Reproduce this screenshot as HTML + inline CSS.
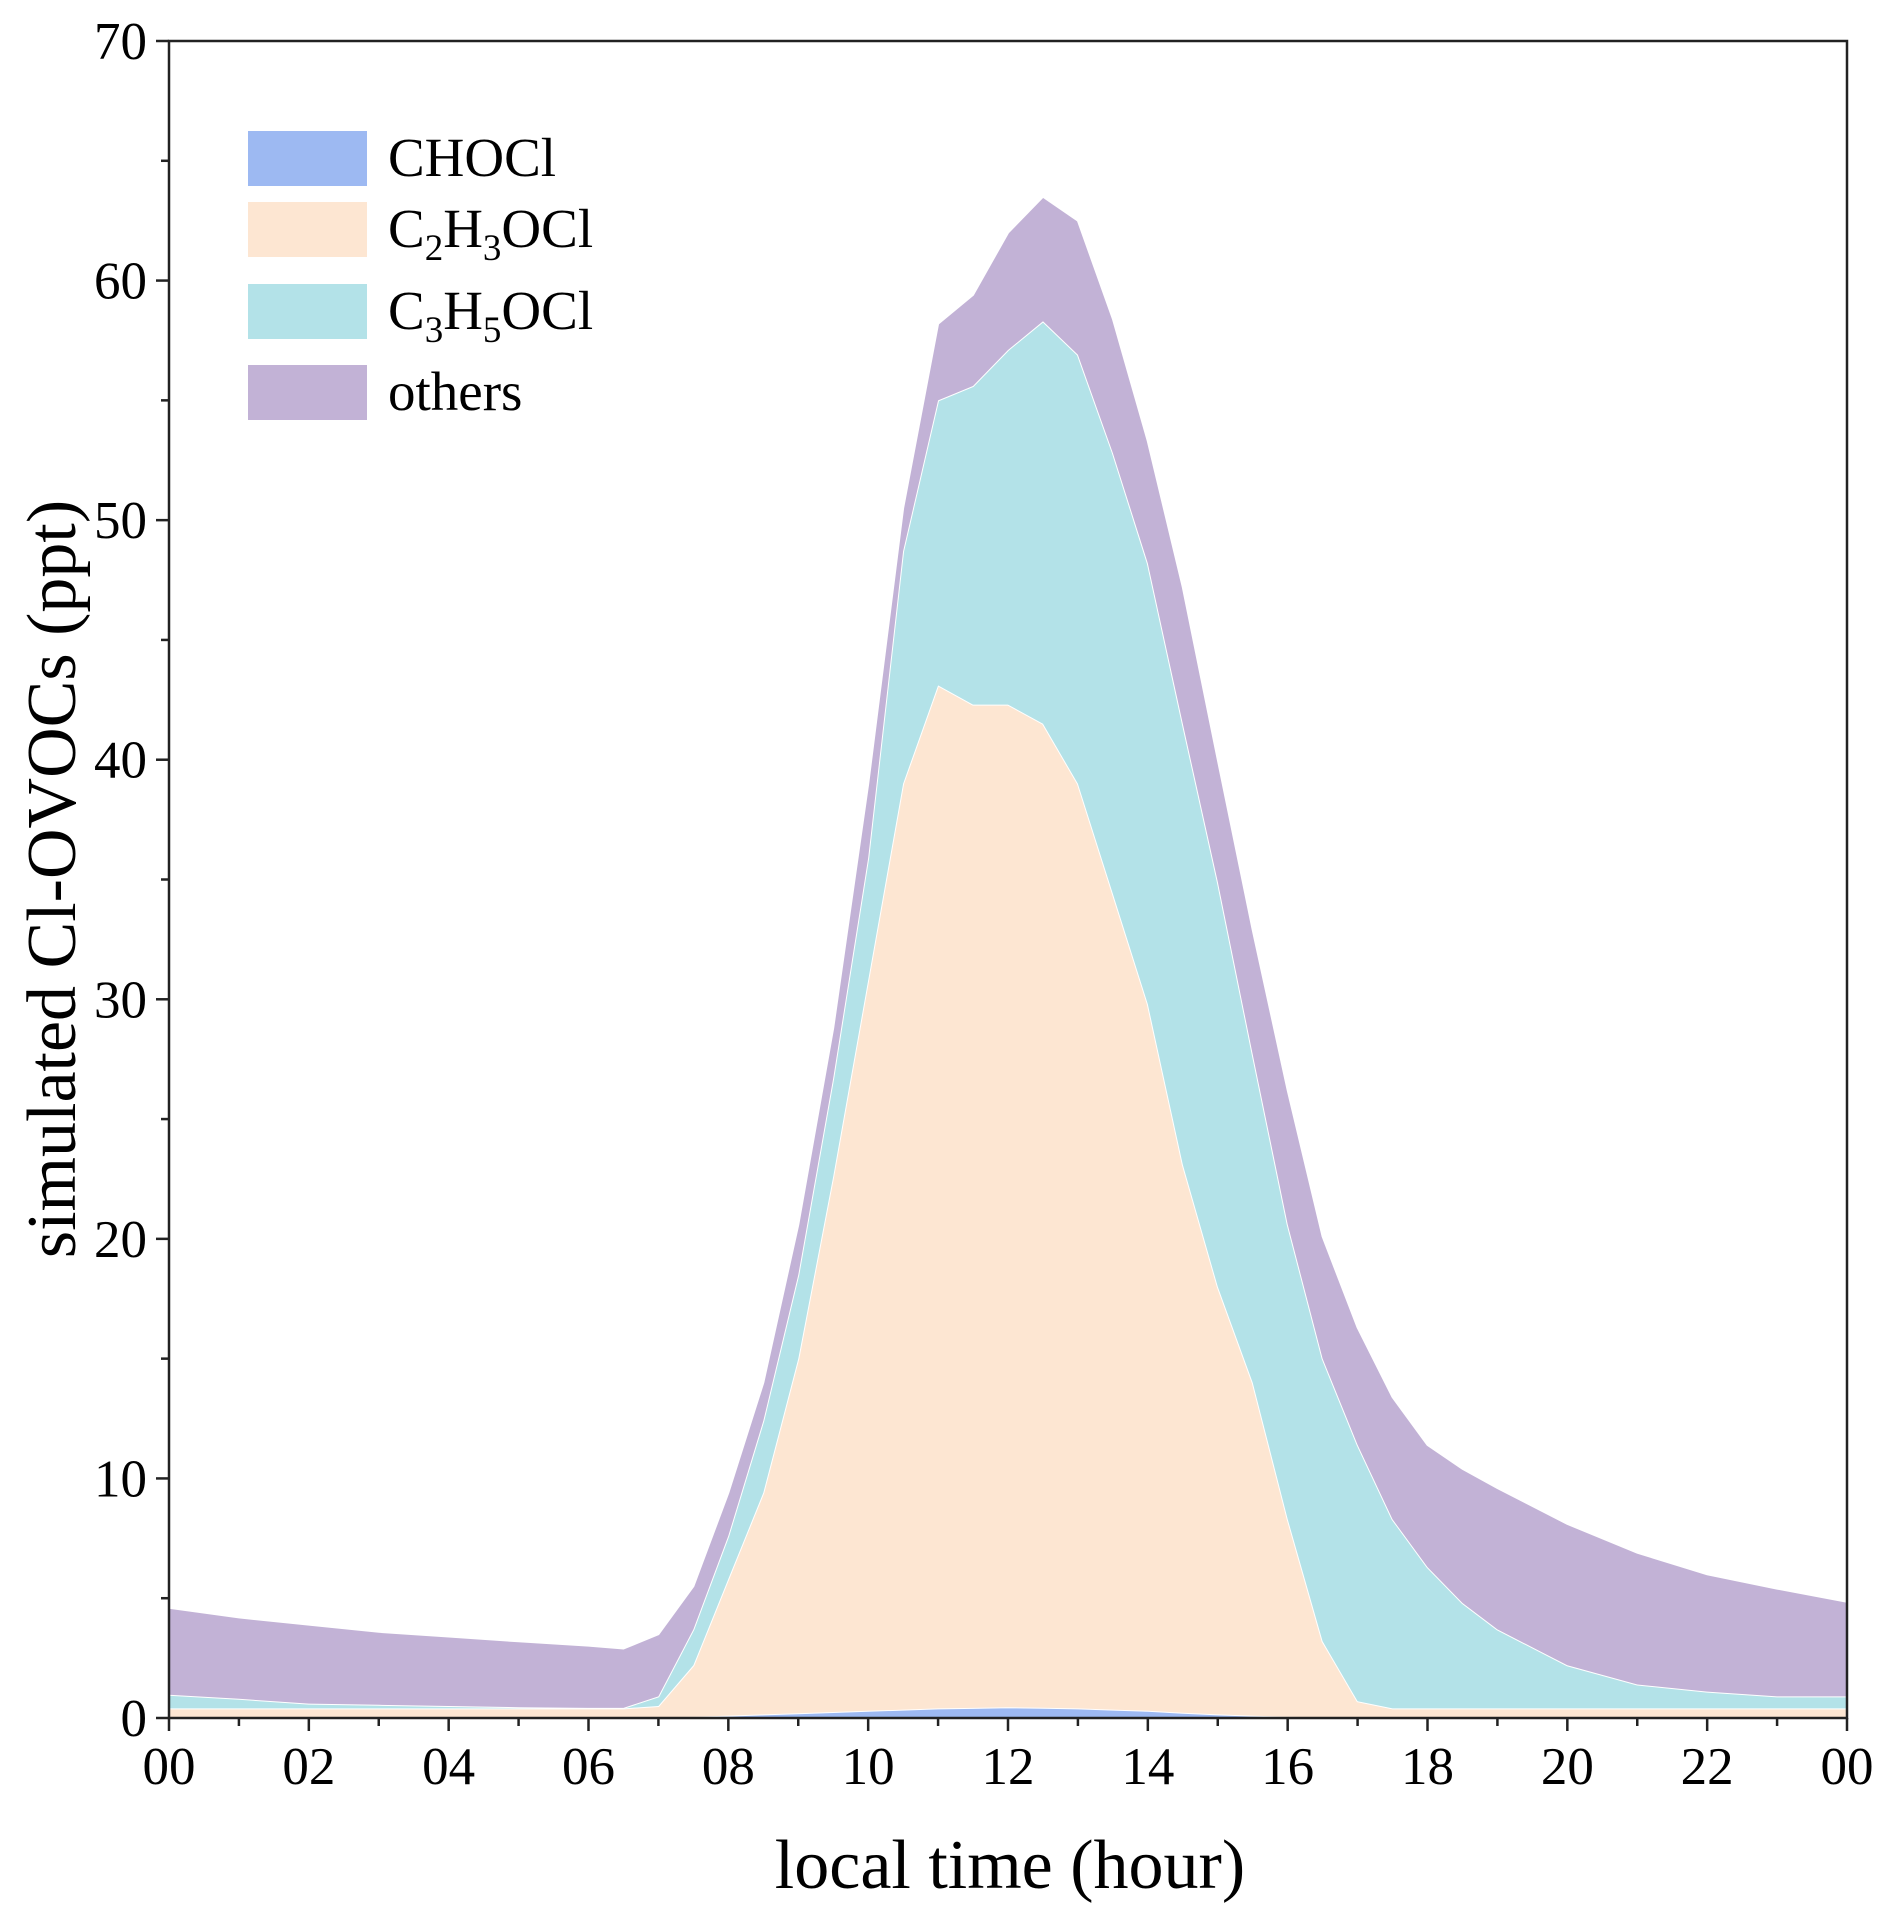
<!DOCTYPE html>
<html><head><meta charset="utf-8">
<style>
html,body{margin:0;padding:0;background:#fff;}
svg{display:block;font-family:"Liberation Serif",serif;}
</style></head>
<body>
<svg id="chart" width="1892" height="1919" viewBox="0 0 1892 1919">
<g id="areas"></g>
<g id="axes"></g>
<g id="legend"></g>
<text x="1010" y="1888" font-size="70" text-anchor="middle">local time (hour)</text>
<text transform="translate(75,879) rotate(-90)" font-size="70" text-anchor="middle">simulated Cl-OVOCs (ppt)</text>
</svg>
<script>
const hours = [0,1,2,3,4,5,6,6.5,7,7.5,8,8.5,9,9.5,10,10.5,11,11.5,12,12.5,13,13.5,14,14.5,15,15.5,16,16.5,17,17.5,18,18.5,19,20,21,22,23,24];
const chocl = [0.02,0.02,0.02,0.02,0.02,0.02,0.02,0.02,0.03,0.05,0.1,0.15,0.2,0.25,0.3,0.35,0.4,0.42,0.45,0.43,0.4,0.35,0.3,0.22,0.15,0.1,0.05,0.02,0.02,0.02,0.02,0.02,0.02,0.02,0.02,0.02,0.02,0.02];
const c2h3ocl = [0.38,0.38,0.38,0.38,0.38,0.38,0.38,0.38,0.47,2.15,5.7,9.25,14.8,22.35,30.5,38.65,42.7,41.88,41.85,41.07,38.6,34.05,29.5,22.88,17.85,13.9,8.25,3.18,0.68,0.38,0.38,0.38,0.38,0.38,0.38,0.38,0.38,0.38];
const c3h5ocl = [0.57,0.4,0.2,0.15,0.1,0.05,0.02,0.02,0.4,1.5,1.8,3.0,3.5,4.1,5.1,9.7,11.9,13.3,14.8,16.8,17.9,18.4,18.4,18.4,16.9,13.7,12.3,11.8,10.7,7.9,5.9,4.4,3.3,1.8,1.0,0.7,0.5,0.5];
const others = [3.63,3.4,3.3,3.05,2.9,2.75,2.6,2.48,2.6,1.8,1.8,1.6,2.1,2.1,3.1,1.8,3.2,3.8,4.9,5.2,5.6,5.6,5.1,5.7,5.1,5.2,5.6,5.1,4.9,5.1,5.1,5.6,5.9,5.9,5.5,4.9,4.5,3.95];
const seriesNames = ["CHOCl","C2H3OCl","C3H5OCl","others"];
const xTickLabels = ["00","02","04","06","08","10","12","14","16","18","20","22","00"];
const yTickLabels = ["0","10","20","30","40","50","60","70"];

const NS="http://www.w3.org/2000/svg";
const X0=169,X1=1847,Y0=1718,Y1=41;
const xs=h=>X0+(h/24)*(X1-X0);
const ys=v=>Y0-(v/70)*(Y0-Y1);
const colors=["#9db9f2","#fde6d2","#b3e2e8","#c2b2d6"];
const allSeries=[chocl,c2h3ocl,c3h5ocl,others];
const keys=["chocl","c2h3ocl","c3h5ocl","others"];
function mk(tag,attrs,parent){const e=document.createElementNS(NS,tag);for(const k in attrs)e.setAttribute(k,attrs[k]);parent.appendChild(e);return e;}

const areas=document.getElementById('areas');
let base=hours.map(()=>0);
allSeries.forEach((s,i)=>{
  const top=base.map((b,j)=>b+s[j]);
  let d="M"+hours.map((h,j)=>xs(h).toFixed(1)+","+ys(top[j]).toFixed(1)).join(" L");
  for(let j=hours.length-1;j>=0;j--) d+=" L"+xs(hours[j]).toFixed(1)+","+ys(base[j]).toFixed(1);
  d+=" Z";
  const p=mk('path',{d:d,fill:colors[i]},areas);
  
  
  const l=mk('path',{d:"M"+hours.map((h,j)=>xs(h).toFixed(1)+","+ys(top[j]).toFixed(1)).join(" L"),fill:"none",stroke:"#fff","stroke-width":2},areas);
  
  
  base=top;
});

const axes=document.getElementById('axes');
const frame=mk('rect',{x:X0,y:Y1,width:X1-X0,height:Y0-Y1,fill:"none",stroke:"#222","stroke-width":2.5},axes);


for(let h=0;h<=24;h++){
  const major=h%2===0;
  const t=mk('line',{x1:xs(h),x2:xs(h),y1:Y0,y2:Y0+(major?13:8),stroke:"#222","stroke-width":2.5},axes);
  
  
  if(major){
    const tx=mk('text',{x:xs(h),y:Y0+66,"font-size":53,"text-anchor":"middle"},axes);
    tx.textContent=xTickLabels[h/2];
    
    
  }
}
for(let v=0;v<=70;v+=5){
  const major=v%10===0;
  const t=mk('line',{x1:X0-(major?13:8),x2:X0,y1:ys(v),y2:ys(v),stroke:"#222","stroke-width":2.5},axes);
  
  
  if(major){
    const tx=mk('text',{x:X0-22,y:ys(v)+18,"font-size":53,"text-anchor":"end"},axes);
    tx.textContent=yTickLabels[v/10];
    
    
  }
}

const legend=document.getElementById('legend');
const rowsY=[131,202,284,365];
const labelsHTML=['CHOCl','C<tspan font-size="37" dy="13">2</tspan><tspan dy="-13">H</tspan><tspan font-size="37" dy="13">3</tspan><tspan dy="-13">OCl</tspan>','C<tspan font-size="37" dy="13">3</tspan><tspan dy="-13">H</tspan><tspan font-size="37" dy="13">5</tspan><tspan dy="-13">OCl</tspan>','others'];
rowsY.forEach((y,i)=>{
  const r=mk('rect',{x:248,y:y,width:119,height:55,fill:colors[i]},legend);
  
  
  const t=mk('text',{x:388,y:y+45,"font-size":55},legend);
  t.innerHTML=labelsHTML[i];
  
  
});
</script>
</body></html>
